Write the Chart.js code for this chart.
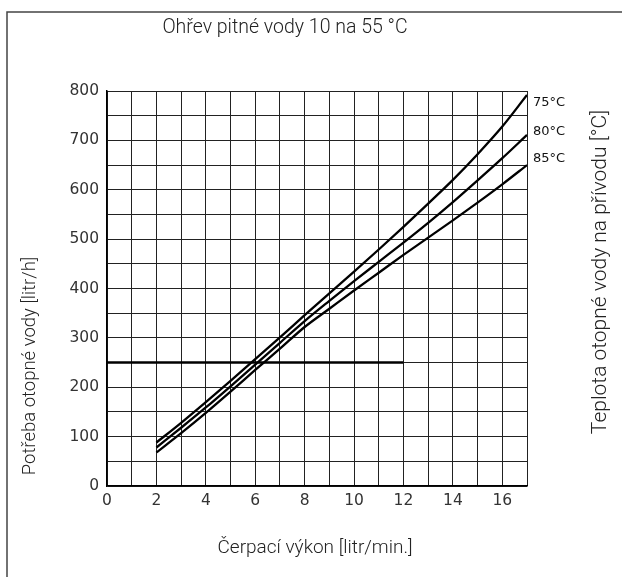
<!DOCTYPE html>
<html>
<head>
<meta charset="utf-8">
<script src="https://cdn.jsdelivr.net/npm/chart.js@4"></script>
<style>
  html, body { margin: 0; padding: 0; background: #fff; }
  #wrap { position: relative; width: 622px; height: 577px; }
</style>
</head>
<body>
<div id="wrap"><canvas id="chart" width="622" height="577"></canvas></div>
<script>
// pump output [litr/min.]
const flowRates = [2, 3, 4, 5, 6, 7, 8, 9, 10, 11, 12, 13, 14, 15, 16, 17];
// heating water demand [litr/h] for each supply temperature
const water75 = [88, 128, 170, 213, 257, 301, 346, 390, 434, 479, 525, 572, 620, 672, 728, 792];
const water80 = [78, 118, 159, 202, 246, 290, 334, 375, 415, 454, 493, 533, 575, 619, 664, 711];
const water85 = [68, 107, 148, 191, 235, 278, 322, 359, 396, 432, 468, 503, 538, 574, 611, 650];
const seriesLabels = ['75°C', '80°C', '85°C'];
// emphasised reference line at 250 litr/h
const limitX = [0, 12];
const limitY = [250, 250];

const xTicks = [0, 2, 4, 6, 8, 10, 12, 14, 16];
const yTicks = [0, 100, 200, 300, 400, 500, 600, 700, 800];

const titleText = 'Ohřev pitné vody 10 na 55 °C';
const xTitle = 'Čerpací výkon [litr/min.]';
const yTitle = 'Potřeba otopné vody [litr/h]';
const y2Title = 'Teplota otopné vody na přívodu [°C]';

function toPoints(xs, ys) {
  return xs.map((x, i) => ({ x: x, y: ys[i] }));
}

const curve = (label, values) => ({
  label: label,
  data: toPoints(flowRates, values),
  borderColor: '#000',
  borderWidth: 2.3,
  pointRadius: 0,
  cubicInterpolationMode: 'monotone',
  fill: false
});

// titles, frame and curve labels
const decorations = {
  id: 'decorations',
  afterDraw(chart) {
    const ctx = chart.ctx;
    const yScale = chart.scales.y;
    ctx.save();

    // outer frame (left + top only)
    ctx.strokeStyle = '#444';
    ctx.lineWidth = 1.5;
    ctx.beginPath();
    ctx.moveTo(7, 577);
    ctx.lineTo(7, 12);
    ctx.lineTo(622, 12);
    ctx.stroke();

    ctx.fillStyle = '#222';
    ctx.textAlign = 'center';
    ctx.textBaseline = 'middle';
    ctx.font = '300 19.5px Roboto';
    ctx.fillText(titleText, 285, 28);
    ctx.font = '300 19px Roboto';
    ctx.fillText(xTitle, 315, 548);

    ctx.save();
    ctx.translate(30, 366);
    ctx.rotate(-Math.PI / 2);
    ctx.font = '300 18.5px Roboto';
    ctx.fillText(yTitle, 0, 0);
    ctx.restore();

    ctx.save();
    ctx.translate(601, 272);
    ctx.rotate(-Math.PI / 2);
    ctx.font = '300 21px Roboto';
    ctx.fillText(y2Title, 0, 0);
    ctx.restore();

    // curve labels next to line ends
    const offsets = [8, -3, -6];
    const ends = [water75, water80, water85].map(a => a[a.length - 1]);
    ctx.font = '13px "DejaVu Sans"';
    ctx.textAlign = 'left';
    ctx.fillStyle = '#111';
    seriesLabels.forEach((lab, i) => {
      ctx.fillText(lab, chart.chartArea.right + 6, yScale.getPixelForValue(ends[i]) + offsets[i]);
    });
    ctx.restore();
  }
};

const ctx = document.getElementById('chart').getContext('2d');
new Chart(ctx, {
  type: 'line',
  data: {
    datasets: [
      curve(seriesLabels[0], water75),
      curve(seriesLabels[1], water80),
      curve(seriesLabels[2], water85),
      {
        label: 'limit',
        data: toPoints(limitX, limitY),
        borderColor: '#000',
        borderWidth: 2.6,
        pointRadius: 0,
        fill: false
      }
    ]
  },
  options: {
    responsive: false,
    animation: false,
    layout: { padding: { top: 91, right: 95, left: 0, bottom: 0 } },
    plugins: {
      legend: { display: false },
      tooltip: { enabled: false }
    },
    scales: {
      x: {
        type: 'linear',
        min: 0,
        max: 17,
        afterFit: s => { s.height = 91; },
        ticks: {
          stepSize: 1,
          autoSkip: false,
          maxRotation: 0,
          padding: 6,
          color: '#333',
          font: { family: 'DejaVu Sans', size: 15.5 },
          callback: v => xTicks.includes(v) ? v : ''
        },
        grid: { color: '#222', lineWidth: 1, drawTicks: false },
        border: { color: '#000', width: 1.5 }
      },
      y: {
        min: 0,
        max: 800,
        afterFit: s => { s.width = 107; },
        ticks: {
          stepSize: 50,
          autoSkip: false,
          padding: 8,
          color: '#333',
          font: { family: 'DejaVu Sans', size: 15.5 },
          callback: v => yTicks.includes(v) ? v : ''
        },
        grid: { color: '#222', lineWidth: 1, drawTicks: false },
        border: { color: '#000', width: 1.5 }
      }
    }
  },
  plugins: [decorations]
});
</script>
</body>
</html>
